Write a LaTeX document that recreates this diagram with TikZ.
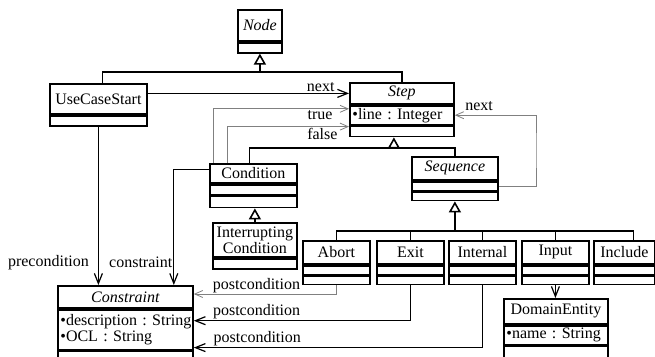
\documentclass[tikz,border=0pt]{standalone}
\usepackage{fontspec}
\setmainfont{Liberation Serif}
\usetikzlibrary{arrows.meta,positioning}

\newcommand\umlfont{\fontsize{16}{16}\selectfont\frenchspacing}

\tikzset{
  box/.style={draw, line width=1.8pt, inner sep=0pt, anchor=north west, font=\umlfont},
  abox/.style={box, font=\umlfont\itshape},
  attrbox/.style={box, align=left, inner xsep=2.5pt},
  genline/.style={line width=1.8pt},
  gen/.style={genline, -{Triangle[open, length=11pt, width=12pt, line width=1.6pt]}},
  assoc/.style={line width=1pt, -{Straight Barb[length=10pt, width=8pt, line width=1.2pt]}},
  assocg/.style={line width=1pt, draw=gray, -{Straight Barb[length=8pt, width=7pt, line width=0.8pt]}},
  lbl/.style={font=\umlfont, inner sep=1pt}
}

\begin{document}
\begin{tikzpicture}[x=1pt, y=-1pt]
    \useasboundingbox (0,0) rectangle (655,356);
    % Classes
    \node[abox, minimum width=44pt, minimum height=31pt] (node) at (237,9) {Node};
    \node[box, minimum width=44pt, minimum height=10pt] (nodeops) at (node.south west) {};

    \node[box, minimum width=97pt, minimum height=30pt] (ucs) at (49,83) {UseCaseStart};
    \node[box, minimum width=97pt, minimum height=10pt] (ucsops) at (ucs.south west) {};

    \node[abox, minimum width=104pt, minimum height=21pt] (step) at (349,82) {Step};
    \node[attrbox, text width=99pt, minimum height=19pt] (stepattr) at (step.south west) {\textbullet line~:~Integer};
    \node[box, minimum width=104pt, minimum height=10pt] (stepops) at (stepattr.south west) {};

    \node[box, minimum width=87pt, minimum height=19pt] (cond) at (209,163) {Condition};
    \node[box, minimum width=87pt, minimum height=10pt] (condattr) at (cond.south west) {};
    \node[box, minimum width=87pt, minimum height=11pt] (condops) at (condattr.south west) {};

    \node[box, minimum width=84pt, minimum height=34pt, align=center] (intr) at (212,222) {Interrupting\\Condition};
    \node[box, minimum width=84pt, minimum height=10pt] (introps) at (intr.south west) {};

    \node[abox, minimum width=86pt, minimum height=23pt] (seq) at (411,156) {Sequence};
    \node[box, minimum width=86pt, minimum height=9pt] (seqattr) at (seq.south west) {};
    \node[box, minimum width=86pt, minimum height=8pt] (seqops) at (seqattr.south west) {};

    \node[box, minimum width=67pt, minimum height=23pt] (abort) at (302,240) {Abort};
    \node[box, minimum width=67pt, minimum height=9pt] (abortattr) at (abort.south west) {};
    \node[box, minimum width=67pt, minimum height=8pt] (abortops) at (abortattr.south west) {};

    \node[box, minimum width=67pt, minimum height=23pt] (exit) at (376,240) {Exit};
    \node[box, minimum width=67pt, minimum height=9pt] (exitattr) at (exit.south west) {};
    \node[box, minimum width=67pt, minimum height=8pt] (exitops) at (exitattr.south west) {};

    \node[box, minimum width=67pt, minimum height=23pt] (int) at (448,240) {Internal};
    \node[box, minimum width=67pt, minimum height=9pt] (intattr) at (int.south west) {};
    \node[box, minimum width=67pt, minimum height=8pt] (intops) at (intattr.south west) {};

    \node[box, minimum width=67pt, minimum height=23pt] (input) at (521,240) {Input};
    \node[box, minimum width=67pt, minimum height=9pt] (inputattr) at (input.south west) {};
    \node[box, minimum width=67pt, minimum height=8pt] (inputops) at (inputattr.south west) {};

    \node[box, minimum width=61pt, minimum height=23pt] (incl) at (593,240) {Include};
    \node[box, minimum width=61pt, minimum height=9pt] (inclattr) at (incl.south west) {};
    \node[box, minimum width=61pt, minimum height=8pt] (inclops) at (inclattr.south west) {};

    \node[box, minimum width=104pt, minimum height=25pt] (de) at (503,298) {DomainEntity};
    \node[attrbox, text width=99pt, minimum height=19pt] (deattr) at (de.south west) {\textbullet name~:~String};
    \node[box, minimum width=104pt, minimum height=14pt] (deops) at (deattr.south west) {};

    \node[abox, minimum width=135pt, minimum height=22pt] (cons) at (57,285) {Constraint};
    \node[attrbox, text width=130pt, minimum height=40pt] (consattr) at (cons.south west) {\textbullet description~:~String\\\textbullet OCL~:~String};
    \node[box, minimum width=135pt, minimum height=9pt] (consops) at (consattr.south west) {};

    % Generalizations
    \coordinate (trunkA) at (0,72);
    \draw[genline] ([xshift=4pt]ucs.north) |- (trunkA -| step.north) -- (step.north);
    \draw[gen] (nodeops.south |- trunkA) -- (nodeops.south);

    \coordinate (trunkB) at (0,148);
    \coordinate (stepbase) at ([xshift=-8pt]stepops.south);
    \draw[genline] ([xshift=-4pt]cond.north) |- (trunkB -| seq.north) -- (seq.north);
    \draw[gen] (stepbase |- trunkB) -- (stepbase);

    \draw[gen] (intr.north) -- (intr.north |- condops.south);

    \coordinate (trunkC) at (0,231);
    \coordinate (incltop) at ([xshift=9pt]incl.north);
    \draw[genline] (abort.north) |- (trunkC -| incltop) -- (incltop);
    \draw[genline] (exit.north) -- (exit.north |- trunkC);
    \draw[genline] (int.north) -- (int.north |- trunkC);
    \draw[genline] (input.north) -- (input.north |- trunkC);
    \draw[gen] (seqops.south |- trunkC) -- (seqops.south);

    % Associations
    \draw[assoc] (ucs.east |- step.west) -- (step.west)
        node[lbl, pos=1, anchor=south east, xshift=-13pt] {next};
    \draw[assocg] ([xshift=4pt]cond.north west) |- ([yshift=-4pt]stepattr.north west)
        node[lbl, pos=1, anchor=north east, xshift=-15pt] {true};
    \draw[assocg] ([xshift=18pt]cond.north west) |- ([yshift=-1pt]stepattr.south west)
        node[lbl, pos=1, anchor=north east, xshift=-10pt] {false};
    \coordinate (loopc) at (536,150);
    \draw[assocg] (seqattr.east) -| (loopc) |- (stepattr.east)
        node[lbl, pos=1, anchor=south west, xshift=9pt, yshift=3pt] {next};

    \draw[assoc] (ucsops.south) -- (ucsops.south |- cons.north)
        node[lbl, pos=0.86, left=8pt] {precondition};
    \draw[assoc] ([yshift=4pt]cond.west) -| ([xshift=-20pt]cons.north east)
        node[lbl, pos=0.9, left] {constraint};

    \draw[assocg] (abortops.south) |- ([yshift=-9pt]cons.north east)
        node[lbl, pos=0.78, above] {postcondition};
    \draw[assoc] (exitops.south) |- ([yshift=9pt]consattr.east)
        node[lbl, pos=0.855, above] {postcondition};
    \draw[assoc] (intops.south) |- ([yshift=3pt]consattr.south east)
        node[lbl, pos=0.89, above] {postcondition};

    \draw[assoc] (inputops.south) -- (inputops.south |- de.north);
\end{tikzpicture}
\end{document}
